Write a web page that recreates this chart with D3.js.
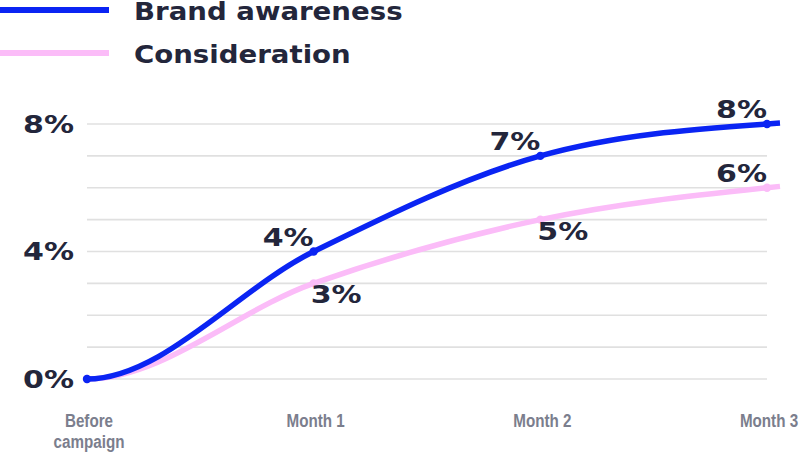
<!DOCTYPE html>
<html>
<head>
<meta charset="utf-8">
<script src="https://cdn.jsdelivr.net/npm/d3@7/dist/d3.min.js"></script>
<style>
  html, body { margin: 0; padding: 0; background: #ffffff; }
  svg { display: block; }
</style>
</head>
<body>
<svg id="chart" width="800" height="453"></svg>
<script>
// ---- data ----
const categories = ["Before\ncampaign", "Month 1", "Month 2", "Month 3"];
const seriesNames = ["Brand awareness", "Consideration"];
const brandAwareness = [0, 4, 7, 8];
const consideration = [0, 3, 5, 6];
const yTicks = [0, 4, 8];
const yGrid = [0, 1, 2, 3, 4, 5, 6, 7, 8];

// ---- styles ----
const BLUE = "#0a24f3";
const PINK = "#fbbcf8";
const DARK = "#23263b";
const GRAY = "#7b7e8d";
const GRID = "#e0e0e0";
const BOLD_FONT = "DejaVu Sans, sans-serif";

const svg = d3.select("#chart");

const x = d3.scalePoint().domain(categories).range([87, 767]);
const y = d3.scaleLinear().domain([0, 8]).range([379, 124]);

// gridlines
svg.append("g").selectAll("line").data(yGrid).join("line")
  .attr("x1", x.range()[0]).attr("x2", x.range()[1])
  .attr("y1", d => y(d)).attr("y2", d => y(d))
  .attr("stroke", GRID).attr("stroke-width", 1.6);

// y tick labels
svg.append("g").selectAll("g").data(yTicks).join("g")
  .attr("transform", d => `translate(74,${y(d)}) scale(1.25,1)`)
  .append("text")
  .attr("text-anchor", "end")
  .attr("dy", "0.36em")
  .attr("font-family", BOLD_FONT).attr("font-weight", "bold").attr("font-size", 24)
  .attr("fill", DARK)
  .text(d => d + "%");

// x tick labels
const xl = svg.append("g").selectAll("g").data(categories).join("g")
  .attr("transform", d => `translate(${x(d) + 2},427) scale(0.8,1)`);
xl.append("text")
  .attr("text-anchor", "middle")
  .attr("font-family", "Liberation Sans, Arial, sans-serif").attr("font-weight", "bold").attr("font-size", 19)
  .attr("fill", GRAY)
  .selectAll("tspan").data(d => d.split("\n")).join("tspan")
  .attr("x", 0).attr("dy", (d, i) => i === 0 ? 0 : 21)
  .text(d => d);

// monotone cubic with flat start tangent (d3-style tangents)
function curvePath(pts) {
  const n = pts.length;
  const h = [], s = [];
  for (let i = 0; i < n - 1; i++) {
    h.push(pts[i + 1][0] - pts[i][0]);
    s.push((pts[i + 1][1] - pts[i][1]) / h[i]);
  }
  const t = new Array(n);
  for (let i = 1; i < n - 1; i++) {
    const p = (s[i - 1] * h[i] + s[i] * h[i - 1]) / (h[i - 1] + h[i]);
    t[i] = (Math.sign(s[i - 1]) + Math.sign(s[i])) * Math.min(Math.abs(s[i - 1]), Math.abs(s[i]), 0.5 * Math.abs(p)) || 0;
  }
  t[0] = 0;
  t[n - 1] = (3 * s[n - 2] - t[n - 2]) / 2;
  const p = d3.path();
  p.moveTo(pts[0][0], pts[0][1]);
  for (let i = 0; i < n - 1; i++) {
    const dx = h[i] / 3;
    p.bezierCurveTo(pts[i][0] + dx, pts[i][1] + t[i] * dx,
                    pts[i + 1][0] - dx, pts[i + 1][1] - t[i + 1] * dx,
                    pts[i + 1][0], pts[i + 1][1]);
  }
  // short run-out past the last point along its tangent
  const last = pts[n - 1];
  p.lineTo(last[0] + 13, last[1] + t[n - 1] * 13);
  return p.toString();
}

const series = [
  { name: seriesNames[1], values: consideration, color: PINK, labelBelow: true },
  { name: seriesNames[0], values: brandAwareness, color: BLUE, labelBelow: false }
];

series.forEach(sr => {
  const pts = sr.values.map((v, i) => [x(categories[i]), y(v)]);
  svg.append("path")
    .attr("d", curvePath(pts))
    .attr("fill", "none")
    .attr("stroke", sr.color)
    .attr("stroke-width", 5.5);
  svg.append("g").selectAll("circle").data(pts).join("circle")
    .attr("cx", d => d[0]).attr("cy", d => d[1]).attr("r", 4.2)
    .attr("fill", sr.color);
});

// data labels
series.forEach(sr => {
  const n = sr.values.length;
  const lab = sr.values.map((v, i) => ({ v, i })).filter(d => d.i > 0);
  svg.append("g").selectAll("g").data(lab).join("g")
    .attr("transform", d => {
      const below = sr.labelBelow && d.i < n - 1;
      const px = x(categories[d.i]);
      const py = y(d.v) + (below ? 20 : -6);
      return `translate(${px - (below ? 3 : 0)},${py}) scale(1.25,1)`;
    })
    .append("text")
    .attr("text-anchor", d => (sr.labelBelow && d.i < n - 1) ? "start" : "end")
    .attr("font-family", BOLD_FONT).attr("font-weight", "bold").attr("font-size", 24)
    .attr("fill", DARK)
    .text(d => d.v + "%");
});

// legend
const legend = svg.append("g");
const legendItems = [
  { name: seriesNames[0], color: BLUE, y: 10 },
  { name: seriesNames[1], color: PINK, y: 53 }
];
legendItems.forEach(li => {
  legend.append("line")
    .attr("x1", 0).attr("x2", 109)
    .attr("y1", li.y).attr("y2", li.y)
    .attr("stroke", li.color).attr("stroke-width", 6);
  legend.append("g")
    .attr("transform", `translate(134,${li.y + 10}) scale(1.15,1)`)
    .append("text")
    .attr("font-family", BOLD_FONT).attr("font-weight", "bold").attr("font-size", 24)
    .attr("fill", DARK)
    .text(li.name);
});
</script>
</body>
</html>
